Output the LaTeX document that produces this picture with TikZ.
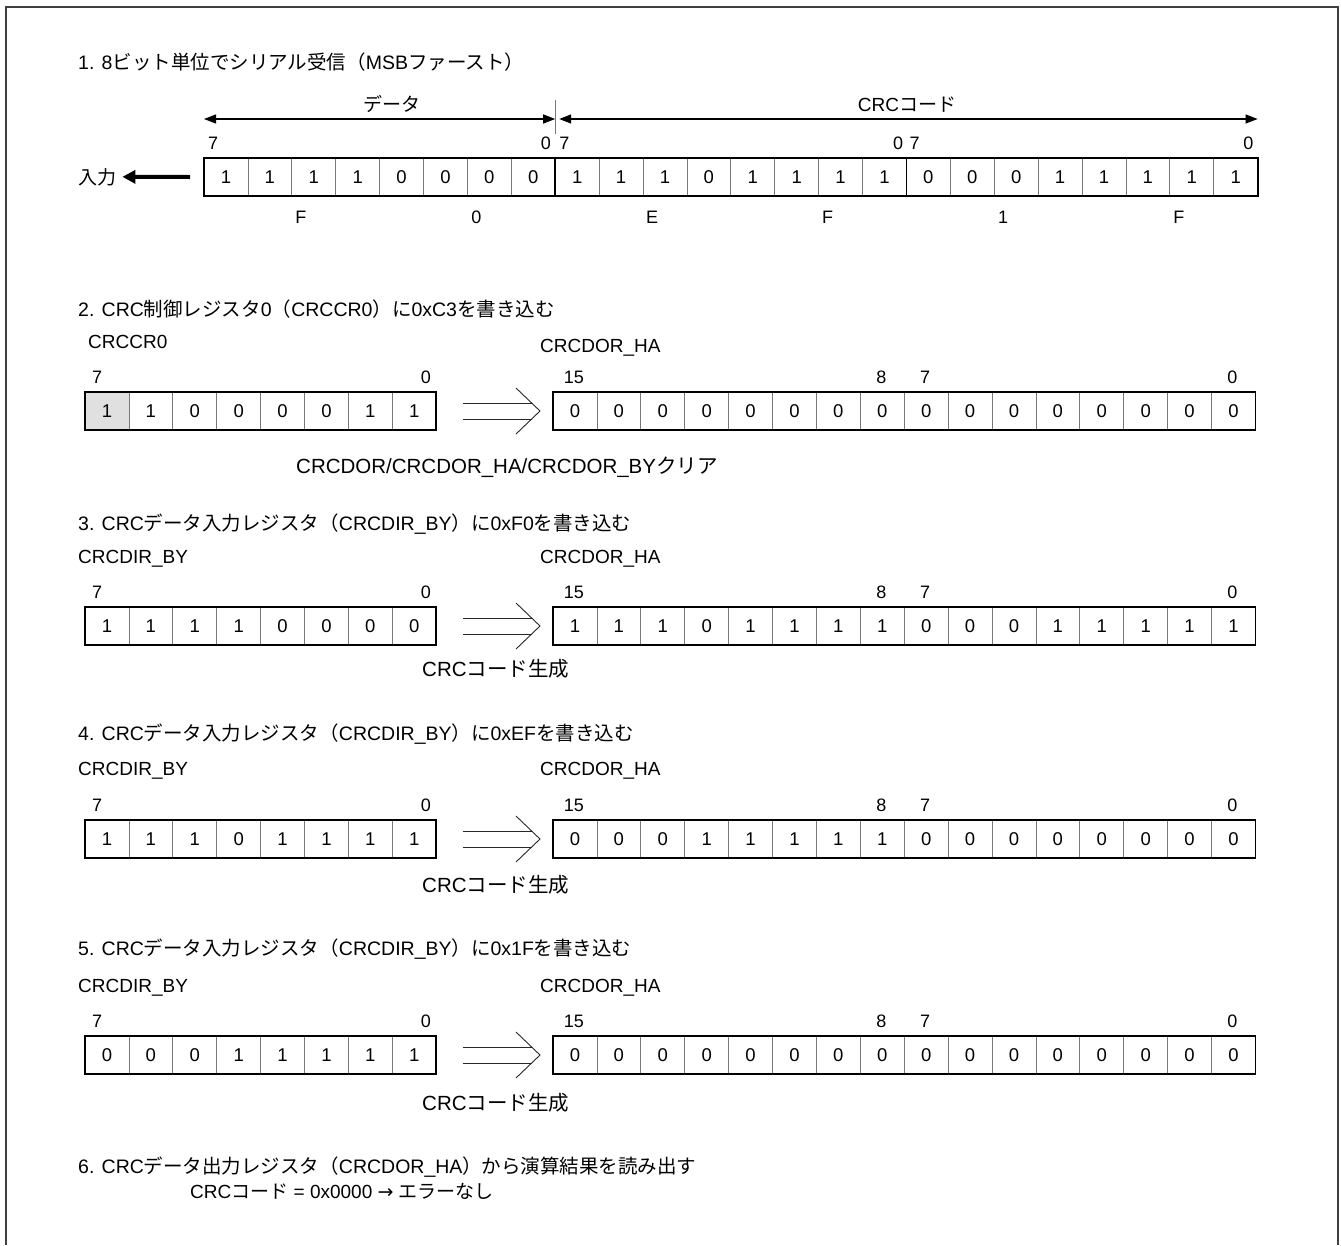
\documentclass[tikz,border=0pt]{standalone}
\usepackage{fontspec}
\setmainfont{Liberation Sans}
\newfontfamily\jp{Noto Sans CJK JP}
\newfontfamily\sym{DejaVu Sans}
\usetikzlibrary{arrows.meta,positioning,calc,fit}
\definecolor{frgray}{RGB}{64,64,64}
\definecolor{cellgray}{RGB}{120,120,120}
\definecolor{cellshade}{RGB}{224,224,224}
\newcommand{\bitrow}[4]{% prefix, left x, top y, bits
  \foreach \b [count=\i from 0] in {#4}
    \node[cell] (#1\i) at ({#2+\i*43.9},#3) {\b};}
\newcommand{\dblarrow}[2]{%
  \draw[thinline] ($(#1.east)+(27,-8)$) -- ($(#2.west)+(-21,-8)$);
  \draw[thinline] ($(#1.east)+(27,8)$) -- ($(#2.west)+(-21,8)$);
  \draw[thinline] ($(#2.west)+(-37,-23)$) -- ($(#2.west)+(-13,0)$) -- ($(#2.west)+(-37,23)$);}

\begin{document}
\begin{tikzpicture}[x=1pt,y=-1pt,
  txt/.style={anchor=base west,inner sep=0,font=\fontsize{19}{22}\selectfont},
  head/.style={txt,font=\fontsize{19.5}{22}\selectfont},
  capt/.style={txt,font=\fontsize{20.5}{22}\selectfont},
  bitno/.style={anchor=base,inner sep=0,font=\fontsize{18}{20}\selectfont},
  cell/.style={draw=cellgray,line width=0.8pt,minimum width=43.9pt,minimum height=38pt,
               inner sep=0,outer sep=0,anchor=north west,font=\fontsize{18.5}{20}\selectfont},
  regframe/.style={draw=black,line width=1.8pt,inner sep=0,outer sep=0},
  thinline/.style={draw=black!85,line width=0.9pt},
  dimarrow/.style={line width=1.3pt,{Triangle[length=12pt,width=9pt]}-{Triangle[length=12pt,width=9pt]}}]
  \useasboundingbox (0,0) rectangle (1341,1245);
  %% outer frame (open at the bottom)
  \draw[frgray,line width=2.5pt] (6,1245) -- (6,7) -- (1338,7) -- (1338,1245);

  %% 1. serial reception
  \node[head] (t1) at (78,69) {1. 8{\jp ビット単位でシリアル受信（}MSB{\jp ファースト）}};
  \bitrow{s1c}{204}{158}{1,1,1,1,0,0,0,0,1,1,1,0,1,1,1,1,0,0,0,1,1,1,1,1}
  \node[regframe,fit=(s1c0)(s1c23)] (s1) {};
  \draw[line width=1.8pt] (s1c8.north west) -- (s1c8.south west);
  \draw[line width=1.8pt] (s1c16.north west) -- (s1c16.south west);
  \node[bitno,anchor=base west] (s1b7a) at ([xshift=4pt,yshift=9pt]s1c0.north west) {7};
  \node[bitno,anchor=base east] (s1b0a) at ([xshift=-4pt,yshift=9pt]s1c7.north east) {0};
  \node[bitno,anchor=base west] (s1b7b) at ([xshift=4pt,yshift=9pt]s1c8.north west) {7};
  \node[bitno,anchor=base east] (s1b0b) at ([xshift=-3pt,yshift=9pt]s1c15.north east) {0};
  \node[bitno,anchor=base west] (s1b7c) at ([xshift=3pt,yshift=9pt]s1c16.north west) {7};
  \node[bitno,anchor=base east] (s1b0c) at ([xshift=-4pt,yshift=9pt]s1c23.north east) {0};
  \foreach \h/\k in {F/2,0/6,E/10,F/14,1/18,F/22}
    \node[bitno] (hex\k) at ([xshift=9pt,yshift=-27pt]s1c\k.south west) {\h};
  %% data / CRC code spans
  \coordinate (ay) at (0,119);
  \coordinate (sep) at ([xshift=4pt]s1c8.north west);
  \draw[dimarrow] (s1c0.north west |- ay) -- (s1c8.north west |- ay);
  \draw[dimarrow] (sep |- ay) -- (s1c23.north east |- ay);
  \draw[cellgray,line width=0.8pt] ([yshift=58pt]s1c8.north west) -- ([yshift=24pt]s1c8.north west);
  \node[txt,anchor=base] (datalbl) at (392,111) {\jp データ};
  \node[txt,anchor=base] (crclbl) at (907,111) {CRC{\jp コード}};
  \node[txt] (inlbl) at (78,184) {\jp 入力};
  \draw[line width=4pt,-{Triangle[length=13pt,width=13pt]}] ([xshift=-14pt]s1.west) -- ([xshift=6pt]inlbl.east);

  %% 2. write CRCCR0
  \node[head] (t2) at (78,316) {2. CRC{\jp 制御レジスタ}0{\jp （}CRCCR0{\jp ）に}0xC3{\jp を書き込む}};
  \node[txt] (n2a) at (88,348) {CRCCR0};
  \node[txt] (n2b) at (540,352) {CRCDOR\_HA};
  \fill[cellshade] (85,392) rectangle ++(43.9,38);
  \bitrow{b2c}{85}{392}{1,1,0,0,0,0,1,1}
  \bitrow{h2c}{553}{392}{0,0,0,0,0,0,0,0,0,0,0,0,0,0,0,0}
  \node[regframe,fit=(b2c0)(b2c7)] (b2) {};
  \node[regframe,fit=(h2c0)(h2c15)] (h2) {};
  \node[bitno,anchor=base west] (b2b7) at ([xshift=7pt,yshift=9pt]b2c0.north west) {7};
  \node[bitno,anchor=base east] (b2b0) at ([xshift=-5pt,yshift=9pt]b2c7.north east) {0};
  \foreach \t/\k in {15/0,8/7,7/8,0/15}
    \node[bitno] (h2b\k) at ([xshift=-1pt,yshift=9pt]h2c\k.north) {\t};
  \dblarrow{b2}{h2}
  \node[capt] (c2) at (296,473) {CRCDOR/CRCDOR\_HA/CRCDOR\_BY{\jp クリア}};

  %% 3. write 0xF0
  \node[head] (t3) at (78,530) {3. CRC{\jp データ入力レジスタ（}CRCDIR\_BY{\jp ）に}0xF0{\jp を書き込む}};
  \node[txt] (n3a) at (78,563) {CRCDIR\_BY};
  \node[txt] (n3b) at (540,563) {CRCDOR\_HA};
  \bitrow{b3c}{85}{607}{1,1,1,1,0,0,0,0}
  \bitrow{h3c}{553}{607}{1,1,1,0,1,1,1,1,0,0,0,1,1,1,1,1}
  \node[regframe,fit=(b3c0)(b3c7)] (b3) {};
  \node[regframe,fit=(h3c0)(h3c15)] (h3) {};
  \node[bitno,anchor=base west] (b3b7) at ([xshift=7pt,yshift=9pt]b3c0.north west) {7};
  \node[bitno,anchor=base east] (b3b0) at ([xshift=-5pt,yshift=9pt]b3c7.north east) {0};
  \foreach \t/\k in {15/0,8/7,7/8,0/15}
    \node[bitno] (h3b\k) at ([xshift=-1pt,yshift=9pt]h3c\k.north) {\t};
  \dblarrow{b3}{h3}
  \node[capt] (c3) at (422,676) {CRC{\jp コード生成}};

  %% 4. write 0xEF
  \node[head] (t4) at (78,740) {4. CRC{\jp データ入力レジスタ（}CRCDIR\_BY{\jp ）に}0xEF{\jp を書き込む}};
  \node[txt] (n4a) at (78,775) {CRCDIR\_BY};
  \node[txt] (n4b) at (540,775) {CRCDOR\_HA};
  \bitrow{b4c}{85}{820}{1,1,1,0,1,1,1,1}
  \bitrow{h4c}{553}{820}{0,0,0,1,1,1,1,1,0,0,0,0,0,0,0,0}
  \node[regframe,fit=(b4c0)(b4c7)] (b4) {};
  \node[regframe,fit=(h4c0)(h4c15)] (h4) {};
  \node[bitno,anchor=base west] (b4b7) at ([xshift=7pt,yshift=9pt]b4c0.north west) {7};
  \node[bitno,anchor=base east] (b4b0) at ([xshift=-5pt,yshift=9pt]b4c7.north east) {0};
  \foreach \t/\k in {15/0,8/7,7/8,0/15}
    \node[bitno] (h4b\k) at ([xshift=-1pt,yshift=9pt]h4c\k.north) {\t};
  \dblarrow{b4}{h4}
  \node[capt] (c4) at (422,892) {CRC{\jp コード生成}};

  %% 5. write 0x1F
  \node[head] (t5) at (78,955) {5. CRC{\jp データ入力レジスタ（}CRCDIR\_BY{\jp ）に}0x1F{\jp を書き込む}};
  \node[txt] (n5a) at (78,992) {CRCDIR\_BY};
  \node[txt] (n5b) at (540,992) {CRCDOR\_HA};
  \bitrow{b5c}{85}{1036}{0,0,0,1,1,1,1,1}
  \bitrow{h5c}{553}{1036}{0,0,0,0,0,0,0,0,0,0,0,0,0,0,0,0}
  \node[regframe,fit=(b5c0)(b5c7)] (b5) {};
  \node[regframe,fit=(h5c0)(h5c15)] (h5) {};
  \node[bitno,anchor=base west] (b5b7) at ([xshift=7pt,yshift=9pt]b5c0.north west) {7};
  \node[bitno,anchor=base east] (b5b0) at ([xshift=-5pt,yshift=9pt]b5c7.north east) {0};
  \foreach \t/\k in {15/0,8/7,7/8,0/15}
    \node[bitno] (h5b\k) at ([xshift=-1pt,yshift=9pt]h5c\k.north) {\t};
  \dblarrow{b5}{h5}
  \node[capt] (c5) at (422,1110) {CRC{\jp コード生成}};

  %% 6. read result
  \node[head] (t6) at (78,1173) {6. CRC{\jp データ出力レジスタ（}CRCDOR\_HA{\jp ）から演算結果を読み出す}};
  \node[txt] (r6) at (190,1198) {CRC{\jp コード} = 0x0000 {\sym →} {\jp エラーなし}};
\end{tikzpicture}
\end{document}
